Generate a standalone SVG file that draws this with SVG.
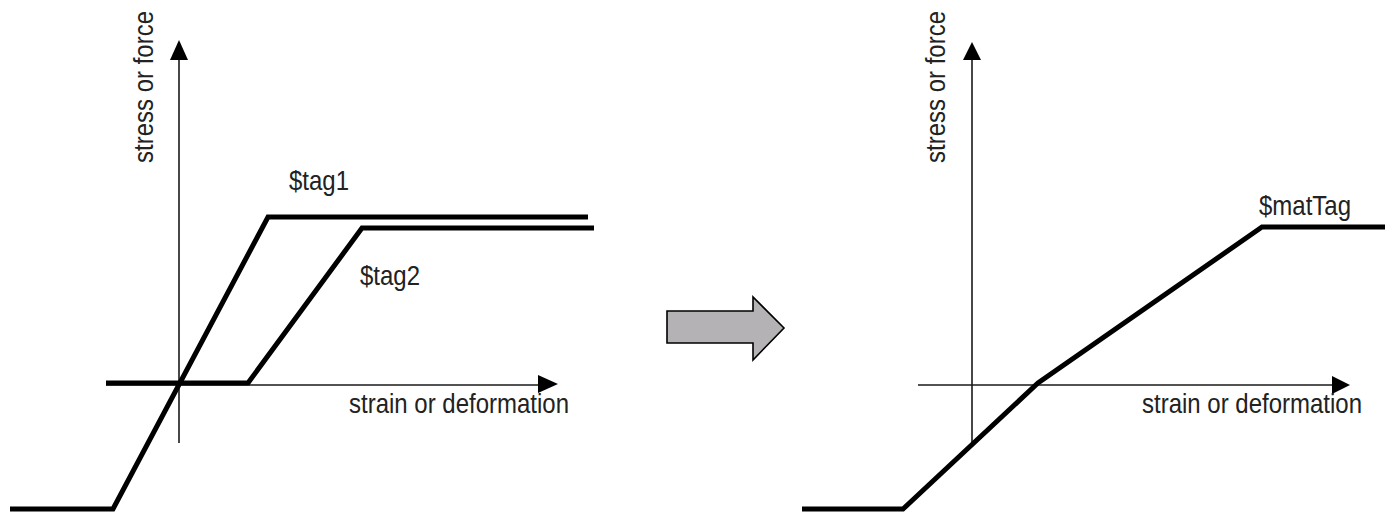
<svg xmlns="http://www.w3.org/2000/svg" width="1392" height="512" viewBox="0 0 1392 512">
<style>
.axis{stroke:#1a1a1a;stroke-width:1.6;fill:none}
.curve{stroke:#000;stroke-width:5;fill:none;stroke-linejoin:miter}
.head{fill:#000}
.lbl{font-family:"Liberation Sans",Arial,sans-serif;font-size:24px;fill:#222}
</style>
<rect width="1392" height="512" fill="#fff"/>
<g id="left-panel">
  <g id="left-axes">
    <line class="axis" x1="179" y1="58" x2="179" y2="443"/>
    <polygon class="head" points="179,40 170,60 188,60"/>
    <line class="axis" x1="106" y1="385" x2="540" y2="385"/>
    <polygon class="head" points="558,384 538,375 538,393"/>
  </g>
  <path id="tag1-curve" class="curve" d="M10,509 L113,509 L268,217 L588,217"/>
  <path id="tag2-curve" class="curve" d="M106,383 L248,383 L362,228 L594,228"/>
  <text class="lbl" transform="translate(153,163) rotate(-90) scale(1,1.12)">stress or force</text>
  <text class="lbl" transform="translate(349,413) scale(1,1.12)">strain or deformation</text>
  <text class="lbl" transform="translate(289,190) scale(1,1.12)">$tag1</text>
  <text class="lbl" transform="translate(360,285) scale(1,1.12)">$tag2</text>
</g>
<g id="block-arrow">
  <polygon points="667,311 753,311 753,297 784,328 753,360 753,343 667,343" fill="#b4b2b4" stroke="#000" stroke-width="1.6" stroke-linejoin="miter"/>
</g>
<g id="right-panel">
  <g id="right-axes">
    <line class="axis" x1="972" y1="58" x2="972" y2="445"/>
    <polygon class="head" points="972,42 963,60 981,60"/>
    <line class="axis" x1="918" y1="385" x2="1334" y2="385"/>
    <polygon class="head" points="1350,385 1332,376 1332,394"/>
  </g>
  <path id="matTag-curve" class="curve" d="M802,509 L903,509 L1038,383 L1262,227 L1385,227"/>
  <text class="lbl" transform="translate(945,163) rotate(-90) scale(1,1.12)">stress or force</text>
  <text class="lbl" transform="translate(1142,413) scale(1,1.12)">strain or deformation</text>
  <text class="lbl" transform="translate(1259,215) scale(1,1.12)">$matTag</text>
</g>
</svg>
